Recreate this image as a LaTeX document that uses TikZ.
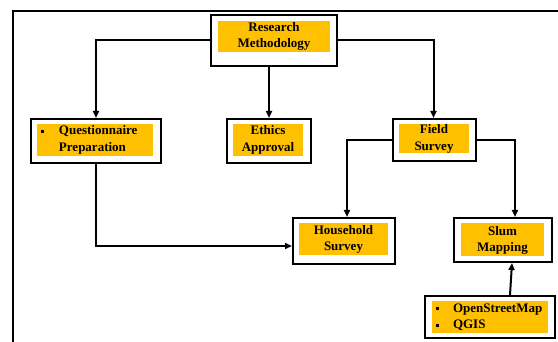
\documentclass[tikz,border=0pt]{standalone}
\usepackage{fontspec}
\setmainfont{Liberation Serif}
\usetikzlibrary{arrows.meta}
\definecolor{gold}{HTML}{FFC000}
\tikzset{
  outer/.style={draw=black, line width=2pt, fill=white, inner sep=0pt},
  yel/.style={fill=gold},
  txt/.style={align=center, inner sep=0pt, font=\bfseries\fontsize{13}{16.5}\selectfont},
  ltxt/.style={align=left, inner sep=0pt, font=\bfseries\fontsize{13}{16.5}\selectfont},
  conn/.style={draw=black, line width=2pt, -{Triangle[length=7pt,width=6pt]}}
}
\newcommand{\bul}{\rule[2pt]{3.2pt}{3.2pt}}
\begin{document}
\begin{tikzpicture}[x=1pt,y=-1pt]
\useasboundingbox (0,0) rectangle (558,342);
% frame
\draw[line width=2pt] (13,342) -- (13,11) -- (558,11);

% Research Methodology
\node[outer, minimum width=126pt, minimum height=51pt] (rm) at (274,40.5) {};
\fill[yel] (218,21) rectangle (330,52);
\node[txt] (rmt) at (274,36.5) {Research\\Methodology};

% Questionnaire
\node[outer, minimum width=130pt, minimum height=44pt] (q) at (96,141) {};
\fill[yel] (37,124) rectangle (153,156);
\node[ltxt, text width=116pt] (qt) at (95,140) {\hspace*{4pt}\makebox[18pt][l]{\bul}Questionnaire\\\hspace*{22pt}Preparation};

% Ethics
\node[outer, minimum width=84pt, minimum height=44pt] (eth) at (269,141) {};
\fill[yel] (233,124) rectangle (303,156);
\node[txt] (etht) at (268,140) {Ethics\\Approval};

% Field Survey
\node[outer, minimum width=83pt, minimum height=42pt] (fs) at (434.5,140) {};
\fill[yel] (399,124) rectangle (469,153);
\node[txt] (fst) at (434,139) {Field\\Survey};

% Household Survey
\node[outer, minimum width=102pt, minimum height=46pt] (hh) at (344,241) {};
\fill[yel] (299,223) rectangle (388,255);
\node[txt] (hht) at (343.5,239.5) {Household\\Survey};

% Slum Mapping
\node[outer, minimum width=98pt, minimum height=44pt] (sm) at (503,240) {};
\fill[yel] (461,223) rectangle (544,256);
\node[txt] (smt) at (502.5,240.5) {Slum\\Mapping};

% OSM / QGIS
\node[outer, minimum width=130pt, minimum height=42pt] (osm) at (490,317) {};
\fill[yel] (432,301) rectangle (548,333);
\node[ltxt, text width=116pt] (osmt) at (490,317.5) {\hspace*{4pt}\makebox[17pt][l]{\bul}OpenStreetMap\\\hspace*{4pt}\makebox[17pt][l]{\bul}QGIS};

% connectors
\draw[conn] (rm.west) -| (q.north);
\draw[conn] (rm.south -| eth.north) -- (eth.north);
\draw[conn] (rm.east) -| ([xshift=-1pt]fs.north);
\draw[conn] (fs.west) -| ([xshift=3pt]hh.north);
\draw[conn] (fs.east) -| ([xshift=12pt]sm.north);
\draw[conn] (q.south) |- ([yshift=-5pt]hh.west);
\draw[conn] ([xshift=20pt]osm.north) -- ([xshift=9pt]sm.south);
\end{tikzpicture}
\end{document}
